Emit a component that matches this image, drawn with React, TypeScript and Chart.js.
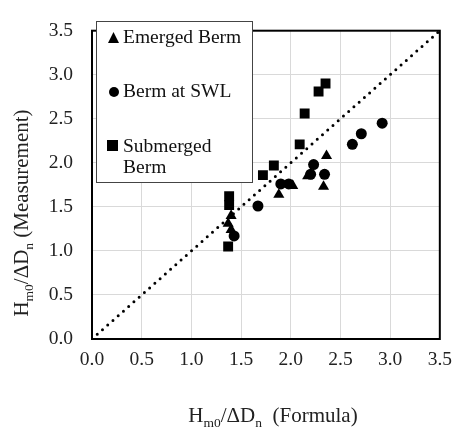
import React, { useEffect, useRef } from "react";
import { Chart, registerables } from "chart.js";

Chart.register(...registerables);

const FONT = '"Liberation Serif", "Times New Roman", Times, serif';

// Tick values (both axes)
const tickValues = [0, 0.5, 1.0, 1.5, 2.0, 2.5, 3.0, 3.5];

// Emerged Berm (triangles)
const emergedX = [1.40, 1.37, 1.40, 1.88, 2.02, 2.17, 2.33, 2.36];
const emergedY = [1.40, 1.31, 1.24, 1.64, 1.74, 1.85, 1.73, 2.08];

// Berm at SWL (circles)
const swlX = [1.43, 1.67, 1.90, 1.98, 2.20, 2.23, 2.34, 2.62, 2.71, 2.92];
const swlY = [1.17, 1.51, 1.76, 1.76, 1.87, 1.98, 1.87, 2.21, 2.33, 2.45];

// Submerged Berm (squares)
const subX = [1.37, 1.38, 1.38, 1.72, 1.83, 2.09, 2.14, 2.28, 2.35];
const subY = [1.05, 1.52, 1.62, 1.86, 1.97, 2.21, 2.56, 2.81, 2.90];

// 1:1 line
const lineX = [0, 3.5];
const lineY = [0, 3.5];

const legendLabels = ["Emerged Berm", "Berm at SWL", "Submerged", "Berm"];

const zip = (xs: number[], ys: number[]) => xs.map((x, i) => ({ x, y: ys[i] }));

type Part = { t: string; sub?: boolean };

function drawRich(ctx: CanvasRenderingContext2D, parts: Part[], cx: number, y: number, size: number, subSize: number) {
  let total = 0;
  const widths: number[] = [];
  for (const p of parts) {
    ctx.font = `${p.sub ? subSize : size}px ${FONT}`;
    const w = ctx.measureText(p.t).width;
    widths.push(w);
    total += w;
  }
  let cur = cx - total / 2;
  ctx.textAlign = "left";
  ctx.textBaseline = "alphabetic";
  parts.forEach((p, i) => {
    ctx.font = `${p.sub ? subSize : size}px ${FONT}`;
    ctx.fillText(p.t, cur, y + (p.sub ? 5 : 0));
    cur += widths[i];
  });
}

const decorPlugin = {
  id: "decor",
  afterDraw(chart: any) {
    const ctx: CanvasRenderingContext2D = chart.ctx;
    const { left, right, top, bottom } = chart.chartArea;
    ctx.save();
    // frame
    ctx.strokeStyle = "#000";
    ctx.lineWidth = 2;
    ctx.strokeRect(left, top, right - left, bottom - top);

    // legend box
    const lx = 96, ly = 21, lw = 156, lh = 161;
    ctx.fillStyle = "#fff";
    ctx.fillRect(lx, ly, lw, lh);
    ctx.strokeStyle = "#444";
    ctx.lineWidth = 1;
    ctx.strokeRect(lx + 0.5, ly + 0.5, lw, lh);

    ctx.fillStyle = "#000";
    // triangle
    ctx.beginPath();
    ctx.moveTo(113.5, 32);
    ctx.lineTo(119, 43);
    ctx.lineTo(108, 43);
    ctx.closePath();
    ctx.fill();
    // circle
    ctx.beginPath();
    ctx.arc(114, 92, 5, 0, Math.PI * 2);
    ctx.fill();
    // square
    ctx.fillRect(107, 140, 11, 11);

    ctx.fillStyle = "#111";
    ctx.font = `19.5px ${FONT}`;
    ctx.textAlign = "left";
    ctx.textBaseline = "alphabetic";
    ctx.fillText(legendLabels[0], 123, 43);
    ctx.fillText(legendLabels[1], 123, 97);
    ctx.fillText(legendLabels[2], 123, 152);
    ctx.fillText(legendLabels[3], 123, 173);

    // axis titles
    ctx.fillStyle = "#222";
    drawRich(
      ctx,
      [{ t: "H" }, { t: "m0", sub: true }, { t: "/ΔD" }, { t: "n", sub: true }, { t: "  (Formula)" }],
      273, 422, 21, 13.5
    );
    ctx.save();
    ctx.translate(28, 213);
    ctx.rotate(-Math.PI / 2);
    drawRich(
      ctx,
      [{ t: "H" }, { t: "m0", sub: true }, { t: "/ΔD" }, { t: "n", sub: true }, { t: " (Measurement)" }],
      0, 0, 21, 13.5
    );
    ctx.restore();
    ctx.restore();
  },
};

export default function App() {
  const ref = useRef<HTMLCanvasElement | null>(null);
  useEffect(() => {
    if (!ref.current) return;
    const tickOpts = (pad: number) => ({
      padding: pad,
      color: "#222",
      font: { family: FONT, size: 19.5 },
      autoSkip: false,
      maxRotation: 0,
      callback: (v: any) => Number(v).toFixed(1),
    });
    const chart = new Chart(ref.current, {
      type: "scatter",
      data: {
        datasets: [
          {
            label: "Emerged Berm",
            data: zip(emergedX, emergedY),
            pointStyle: "triangle",
            pointRadius: 6.4,
            backgroundColor: "#000",
            borderColor: "#000",
            borderWidth: 0,
            order: 1,
          },
          {
            label: "Berm at SWL",
            data: zip(swlX, swlY),
            pointStyle: "circle",
            pointRadius: 5.5,
            backgroundColor: "#000",
            borderColor: "#000",
            borderWidth: 0,
            order: 1,
          },
          {
            label: "Submerged Berm",
            data: zip(subX, subY),
            pointStyle: "rect",
            pointRadius: 7,
            backgroundColor: "#000",
            borderColor: "#000",
            borderWidth: 0,
            order: 1,
          },
          {
            type: "line",
            label: "1:1",
            data: zip(lineX, lineY),
            borderColor: "#000",
            borderWidth: 3,
            borderDash: [0, 7],
            borderCapStyle: "round",
            pointRadius: 0,
            fill: false,
            order: 10,
          } as any,
        ],
      },
      options: {
        responsive: false,
        animation: false,
        devicePixelRatio: 1,
        layout: { padding: { top: 16, right: 14, left: 0, bottom: 0 } },
        plugins: { legend: { display: false }, tooltip: { enabled: false } },
        scales: {
          x: {
            type: "linear",
            min: 0,
            max: 3.5,
            afterBuildTicks: (s: any) => {
              s.ticks = tickValues.map((v) => ({ value: v }));
            },
            afterFit: (s: any) => {
              s.height = 90;
            },
            grid: { color: "#d9d9d9", drawTicks: false },
            border: { display: false },
            ticks: tickOpts(9),
          },
          y: {
            type: "linear",
            min: 0,
            max: 3.5,
            afterBuildTicks: (s: any) => {
              s.ticks = tickValues.map((v) => ({ value: v }));
            },
            afterFit: (s: any) => {
              s.width = 92;
            },
            grid: { color: "#d9d9d9", drawTicks: false },
            border: { display: false },
            ticks: tickOpts(19),
          },
        },
      } as any,
      plugins: [decorPlugin],
    });
    return () => chart.destroy();
  }, []);
  return (
    <div style={{ position: "absolute", left: 0, top: 0, width: 461, height: 429, background: "#fff" }}>
      <canvas ref={ref} width={461} height={429} style={{ display: "block" }} />
    </div>
  );
}
